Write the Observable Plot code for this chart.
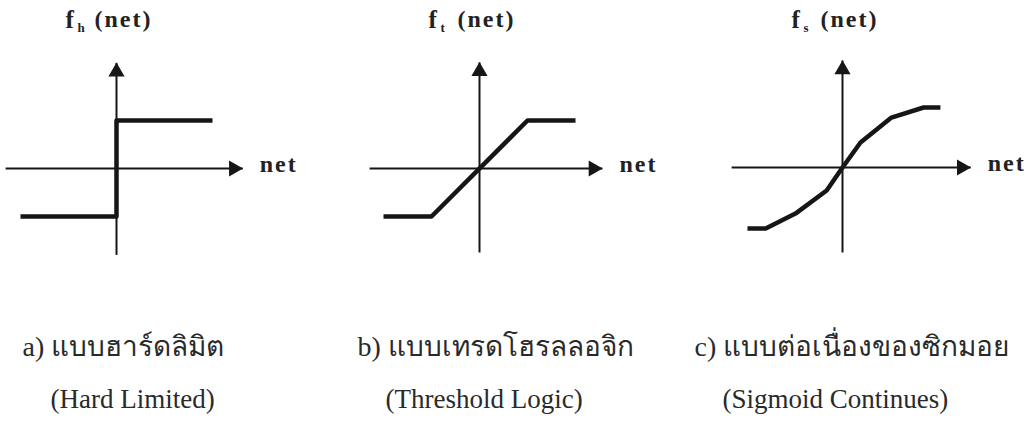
<!DOCTYPE html>
<html><head><meta charset="utf-8">
<script src="https://cdn.jsdelivr.net/npm/d3@7"></script>
<script src="https://cdn.jsdelivr.net/npm/@observablehq/plot@0.6"></script>
<style>
body{margin:0;background:#fff;}
#row{display:flex;width:1032px;height:423px;overflow:hidden;position:relative;}
#row svg{flex:none;}
</style></head><body><div id="row"></div>
<script>
// ---- data ----
const panels = ["a", "b", "c"];
const funcLetter = "f";
const funcSub = ["h", "t", "s"];
const funcArg = "(net)";
const axisLabel = "net";
const thaiCaptions = ["a) แบบฮาร์ดลิมิต", "b) แบบเทรดโฮรลลอจิก", "c) แบบต่อเนื่องของซิกมอย"];
const engCaptions = ["(Hard Limited)", "(Threshold Logic)", "(Sigmoid Continues)"];

const hardNet = [-2, 0, 0, 2];
const hardOut = [-1, -1, 1, 1];
const threshNet = [-2, -1, 1, 2];
const threshOut = [-1, -1, 1, 1];
const sigNet = [-1.98, -1.6, -0.98, -0.33, 0, 0.375, 1.02, 1.69, 2.04];
const sigOut = [-1.27, -1.27, -0.96, -0.48, 0, 0.52, 1.04, 1.25, 1.25];

const xAxisMin = [-2.31, -2.29, -2.31];
const xAxisMax = [2.63, 2.56, 2.67];
const yAxisMin = [-1.8, -1.75, -1.77];
const yAxisMax = [2.2, 2.21, 2.23];

// ---- layout ----
const W = 344, H = 423, K = 48;
const origin = [[116, 168], [135, 168], [154, 167]];
const thaiDx = [22, 13, 6], engDx = [50, 41, 34];
const ink = "#161616";
const serif = "'Liberation Serif', 'Times New Roman', serif";

const curves = [[hardNet, hardOut], [threshNet, threshOut], [sigNet, sigOut]];
const row = document.getElementById("row");

panels.forEach((p, i) => {
  const [ox, oy] = origin[i];
  const pts = curves[i][0].map((n, j) => ({net: n, out: curves[i][1][j]}));
  const xAxis = [{x1: xAxisMin[i], y1: 0, x2: xAxisMax[i], y2: 0}];
  const yAxis = [{x1: 0, y1: yAxisMin[i], x2: 0, y2: yAxisMax[i]}];
  const chart = Plot.plot({
    width: W, height: H, margin: 0,
    x: {domain: [-ox / K, (W - ox) / K], axis: null},
    y: {domain: [-(H - oy) / K, oy / K], axis: null},
    style: {background: "transparent", overflow: "visible", fontFamily: serif, color: "#222"},
    marks: [
      Plot.link(xAxis, {x1: "x1", y1: "y1", x2: "x2", y2: "y2", stroke: ink, strokeWidth: 2}),
      Plot.link(yAxis, {x1: "x1", y1: "y1", x2: "x2", y2: "y2", stroke: ink, strokeWidth: 2}),
      Plot.dot([{x: xAxisMax[i], y: 0}], {x: "x", y: "y", symbol: "triangle", r: 6, rotate: 90, dx: -9, fill: ink, stroke: null}),
      Plot.dot([{x: 0, y: yAxisMax[i]}], {x: "x", y: "y", symbol: "triangle", r: 6, dy: 9, fill: ink, stroke: null}),
      Plot.line(pts, {x: "net", y: "out", stroke: ink, strokeWidth: 4.5, strokeLinejoin: "round", strokeLinecap: "butt"}),
      Plot.text([{x: xAxisMax[i], y: 0}], {x: "x", y: "y", text: () => axisLabel, textAnchor: "start", lineAnchor: "middle", dx: 17, dy: -4, fontSize: 24, fontWeight: "bold", fill: "#222"}),
      Plot.text([{x: 0}], {x: "x", frameAnchor: "top", text: () => funcLetter, textAnchor: "start", lineAnchor: "middle", dx: -51, dy: 19, fontSize: 25, fontWeight: "bold", fill: "#222"}),
      Plot.text([{x: 0}], {x: "x", frameAnchor: "top", text: () => funcSub[i], textAnchor: "start", lineAnchor: "middle", dx: -39, dy: 27, fontSize: 13, fontWeight: "bold", fill: "#222"}),
      Plot.text([{x: 0}], {x: "x", frameAnchor: "top", text: () => funcArg, textAnchor: "start", lineAnchor: "middle", dx: -22, dy: 19, fontSize: 24, fontWeight: "bold", fill: "#222"}),
      Plot.text([thaiCaptions[i]], {frameAnchor: "top-left", text: d => d, textAnchor: "start", lineAnchor: "middle", dx: thaiDx[i], dy: 347, fontSize: 28, fill: "#2a2a2a"}),
      Plot.text([engCaptions[i]], {frameAnchor: "top-left", text: d => d, textAnchor: "start", lineAnchor: "middle", dx: engDx[i], dy: 399, fontSize: 27, fill: "#2a2a2a"})
    ]
  });
  chart.querySelectorAll("text").forEach(t => {
    if (t.textContent === funcArg || t.textContent === axisLabel) t.style.letterSpacing = "2px";
  });
  row.appendChild(chart);
});
</script></body></html>
